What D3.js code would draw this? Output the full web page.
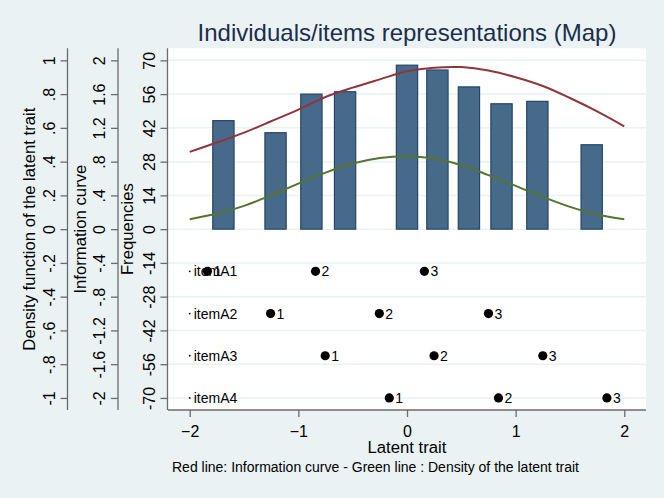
<!DOCTYPE html>
<html lang="en">
<head>
<meta charset="UTF-8">
<title>Individuals/items representations (Map)</title>
<script src="https://d3js.org/d3.v7.min.js"></script>
<style>
  body { margin: 0; padding: 0; background: #eaf2f3; }
  svg { display: block; font-family: "Liberation Sans", Arial, sans-serif; }
  .axis path, .axis line { stroke: #6b6b6b; stroke-width: 1.3; }
  .axis text { fill: #000; font-size: 16px; }
</style>
</head>
<body>
<svg width="664" height="498"></svg>
<script>
// histogram of the latent trait
const barTrait = [-1.69, -1.21, -0.88, -0.57, 0.0, 0.28, 0.57, 0.87, 1.2, 1.7];
const barFreq  = [45, 40, 56, 57, 68, 66, 59, 52, 53, 35];

// curves, read every 0.25 on the latent trait
const curveTrait = [-2, -1.75, -1.5, -1.25, -1, -0.75, -0.5, -0.25, 0, 0.25, 0.5, 0.75, 1, 1.25, 1.5, 1.75, 2];
const infoCurve  = [0.915, 1.026, 1.144, 1.278, 1.416, 1.566, 1.677, 1.775, 1.87, 1.913, 1.92, 1.88, 1.80, 1.696, 1.554, 1.396, 1.219];
const densCurve  = [0.059, 0.093, 0.138, 0.201, 0.270, 0.335, 0.389, 0.422, 0.432, 0.418, 0.379, 0.320, 0.256, 0.191, 0.132, 0.087, 0.059];

// item thresholds
const items = ["itemA1", "itemA2", "itemA3", "itemA4"];
const itemRow = [-17.5, -35, -52.5, -70];
const thresholds = [
  [-1.837, -0.842, 0.16],
  [-1.256, -0.255, 0.75],
  [-0.753, 0.249, 1.25],
  [-0.163, 0.842, 1.84]
];

// tick labels
const xTicks = [-2, -1, 0, 1, 2];
const freqTicks = [70, 56, 42, 28, 14, 0, -14, -28, -42, -56, -70];
const infoTicks = [2, 1.6, 1.2, 0.8, 0.4, 0, -0.4, -0.8, -1.2, -1.6, -2];
const infoLabels = ["2", "1.6", "1.2", ".8", ".4", "0", "-.4", "-.8", "-1.2", "-1.6", "-2"];
const densTicks = [1, 0.8, 0.6, 0.4, 0.2, 0, -0.2, -0.4, -0.6, -0.8, -1];
const densLabels = ["1", ".8", ".6", ".4", ".2", "0", "-.2", "-.4", "-.6", "-.8", "-1"];

const svg = d3.select("svg");

const x = d3.scaleLinear().domain([-2.2, 2.2]).range([168, 646]);
const yFreq = d3.scaleLinear().domain([-75, 75]).range([410, 48.3]);
const yInfo = d3.scaleLinear().domain([-75 * 2 / 70, 75 * 2 / 70]).range([410, 48.3]);
const yDens = d3.scaleLinear().domain([-75 / 70, 75 / 70]).range([410, 48.3]);

// plot region
svg.append("rect")
   .attr("x", x(-2.2)).attr("y", yFreq(75))
   .attr("width", x(2.2) - x(-2.2))
   .attr("height", yFreq(-75) - yFreq(75))
   .attr("fill", "white");

// grid lines
svg.selectAll(".grid")
   .data(freqTicks)
   .enter().append("line")
   .attr("class", "grid")
   .attr("x1", x(-2.2)).attr("x2", x(2.2))
   .attr("y1", d => yFreq(d)).attr("y2", d => yFreq(d))
   .attr("stroke", "#eaf2f3")
   .attr("stroke-width", 1.5);

// bars
svg.selectAll(".bar")
   .data(barTrait)
   .enter().append("rect")
   .attr("class", "bar")
   .attr("x", d => x(d - 0.098))
   .attr("width", x(0.098) - x(-0.098))
   .attr("y", (d, i) => yFreq(barFreq[i]))
   .attr("height", (d, i) => yFreq(0) - yFreq(barFreq[i]))
   .attr("fill", "#476a8b")
   .attr("stroke", "#23466b")
   .attr("stroke-width", 1.2);

// information curve (red) and density (green)
const infoLine = d3.line()
   .x((d, i) => x(curveTrait[i]))
   .y(d => yInfo(d))
   .curve(d3.curveCatmullRom);
const densLine = d3.line()
   .x((d, i) => x(curveTrait[i]))
   .y(d => yDens(d))
   .curve(d3.curveCatmullRom);

svg.append("path")
   .attr("d", infoLine(infoCurve))
   .attr("fill", "none")
   .attr("stroke", "#90353b")
   .attr("stroke-width", 2);

svg.append("path")
   .attr("d", densLine(densCurve))
   .attr("fill", "none")
   .attr("stroke", "#55752f")
   .attr("stroke-width", 2);

// item labels
items.forEach(function(name, i) {
  svg.append("circle")
     .attr("cx", x(-2)).attr("cy", yFreq(itemRow[i]))
     .attr("r", 0.9).attr("fill", "#000");
  svg.append("text")
     .attr("x", x(-2) + 4).attr("y", yFreq(itemRow[i]) + 5)
     .attr("font-size", "14px")
     .text(name);
});

// thresholds
thresholds.forEach(function(row, i) {
  row.forEach(function(t, k) {
    svg.append("circle")
       .attr("cx", x(t)).attr("cy", yFreq(itemRow[i]))
       .attr("r", 4.6).attr("fill", "#000");
    svg.append("text")
       .attr("x", x(t) + 6).attr("y", yFreq(itemRow[i]) + 5)
       .attr("font-size", "14px")
       .text(k + 1);
  });
});

// x axis
const xAxis = svg.append("g")
   .attr("class", "axis")
   .attr("transform", "translate(0," + yFreq(-75) + ")")
   .call(d3.axisBottom(x).tickValues(xTicks).tickFormat(d3.format("d")).tickSize(7).tickSizeOuter(0));
xAxis.select(".domain").attr("d", "M" + x(-2.2) + ",0H" + x(2.2));
xAxis.selectAll("text").attr("y", 12).attr("dy", "0.95em");

// three y axes with rotated labels
function yAxis(scale, values, labels, xPos) {
  const g = svg.append("g")
     .attr("class", "axis")
     .attr("transform", "translate(" + xPos + ",0)")
     .call(d3.axisLeft(scale).tickValues(values)
           .tickFormat((d, i) => labels[i]).tickSize(7).tickSizeOuter(0));
  g.select(".domain").attr("d", "M0," + yFreq(75) + "V" + yFreq(-75));
  g.selectAll(".tick text")
   .attr("transform", "rotate(-90)")
   .attr("x", 0).attr("y", -13).attr("dy", 0)
   .attr("text-anchor", "middle");
}
yAxis(yFreq, freqTicks, freqTicks.map(String), 167.5);
yAxis(yInfo, infoTicks, infoLabels, 118);
yAxis(yDens, densTicks, densLabels, 67.5);

// axis titles
const yTitles = [
  { label: "Frequencies", x: 133 },
  { label: "Information curve", x: 86 },
  { label: "Density function of the latent trait", x: 35 }
];
yTitles.forEach(function(d) {
  svg.append("text")
     .attr("transform", "translate(" + d.x + "," + yFreq(0) + ") rotate(-90)")
     .attr("text-anchor", "middle")
     .attr("font-size", "16.7px")
     .text(d.label);
});

svg.append("text")
   .attr("x", x(0)).attr("y", 453)
   .attr("text-anchor", "middle")
   .attr("font-size", "16.7px")
   .text("Latent trait");

svg.append("text")
   .attr("x", x(-2.2) + 4).attr("y", 472)
   .attr("font-size", "14px")
   .text("Red line: Information curve - Green line : Density of the latent trait");

// title
svg.append("text")
   .attr("x", x(0)).attr("y", 40.5)
   .attr("text-anchor", "middle")
   .attr("font-size", "24px")
   .attr("fill", "#1c2d4d")
   .text("Individuals/items representations (Map)");
</script>
</body>
</html>
